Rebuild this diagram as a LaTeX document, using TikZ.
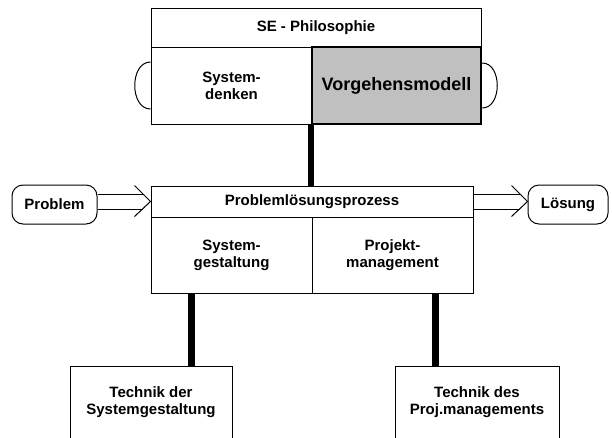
\documentclass[tikz,border=0pt]{standalone}
\usepackage{fontspec}
\setmainfont{Liberation Sans}
\usetikzlibrary{calc}
\definecolor{boxgray}{RGB}{192,192,192}
\begin{document}
\begin{tikzpicture}[x=1pt,y=-1pt,
  box/.style={draw, line width=1pt, rectangle, inner sep=0pt, align=center,
    font=\bfseries\fontsize{15}{17}\selectfont},
  endbox/.style={box, rounded corners=11pt, minimum width=#1, minimum height=39pt},
  bar/.style={line width=6.5pt},
  thinline/.style={line width=1pt},
  bracket/.style={line width=1pt}
]
\useasboundingbox (0,0) rectangle (612,437);
\clip (0,0) rectangle (612,437);

% SE philosophy block
\node[box, minimum width=330pt, minimum height=39pt] (phil) at (316,27.5) {SE - Philosophie};
\node[box, minimum width=161pt, minimum height=77pt] (sysd) at (231.5,85.5) {System-\\denken};
\node[box, fill=boxgray, line width=2.5pt, minimum width=169pt, minimum height=77pt,
  font=\bfseries\fontsize{18}{20}\selectfont] (vorg) at (396.5,85.5) {Vorgehensmodell};

% side brackets
\draw[bracket] ($(sysd.west)+(0,-23.5)$) .. controls +(-21,0) and +(-21,0) .. ($(sysd.west)+(0,23.5)$);
\draw[bracket] ($(vorg.east)+(0,-22.5)$) .. controls +(20,0) and +(20,0) .. ($(vorg.east)+(0,22.5)$);

% problem solving process block
\node[box, minimum width=322pt, minimum height=31pt] (pls) at (312,201.5) {Problemlösungsprozess};
\node[box, minimum width=161pt, minimum height=76pt] (sg) at (231.5,255) {System-\\gestaltung};
\node[box, minimum width=161pt, minimum height=76pt] (pm) at (392.5,255) {Projekt-\\management};

% input and output
\node[endbox=85pt] (problem) at (54.5,204.5) {Problem};
\node[endbox=80pt] (loesung) at (568,204.5) {Lösung};

% technique boxes (open at the lower edge)
\node[box, minimum width=162pt, minimum height=73pt] (tsg) at (151,402.5) {Technik der\\Systemgestaltung};
\node[box, minimum width=164pt, minimum height=73pt] (tpm) at (477,402.5) {Technik des\\Proj.managements};

% thick links
\draw[bar] (vorg.south west) -- (vorg.south west |- pls.north);
\draw[bar] ([xshift=40.5pt]tsg.north) -- ([xshift=40.5pt]tsg.north |- sg.south);
\draw[bar] ([xshift=-41.5pt]tpm.north) -- ([xshift=-41.5pt]tpm.north |- pm.south);

% double-line arrow into the process
\path ([yshift=7.5pt]pls.west) coordinate (ia) ([yshift=-7.5pt]pls.west) coordinate (ib);
\draw[thinline] (ia -| problem.east) -- ([xshift=-7.5pt]ia);
\draw[thinline] (ib -| problem.east) -- ([xshift=-7.5pt]ib);
\draw[thinline] ($(pls.west)+(-16,-16)$) -- (pls.west) -- ($(pls.west)+(-16,15)$);

% double-line arrow out of the process
\path ([yshift=7.5pt]pls.east) coordinate (oa) ([yshift=-7.5pt]pls.east) coordinate (ob);
\coordinate (otip) at (loesung.west |- pls.east);
\draw[thinline] (oa) -- ([xshift=-7.5pt]oa -| otip);
\draw[thinline] (ob) -- ([xshift=-7.5pt]ob -| otip);
\draw[thinline] ($(otip)+(-16,-16)$) -- (otip) -- ($(otip)+(-16,15)$);
\end{tikzpicture}
\end{document}
